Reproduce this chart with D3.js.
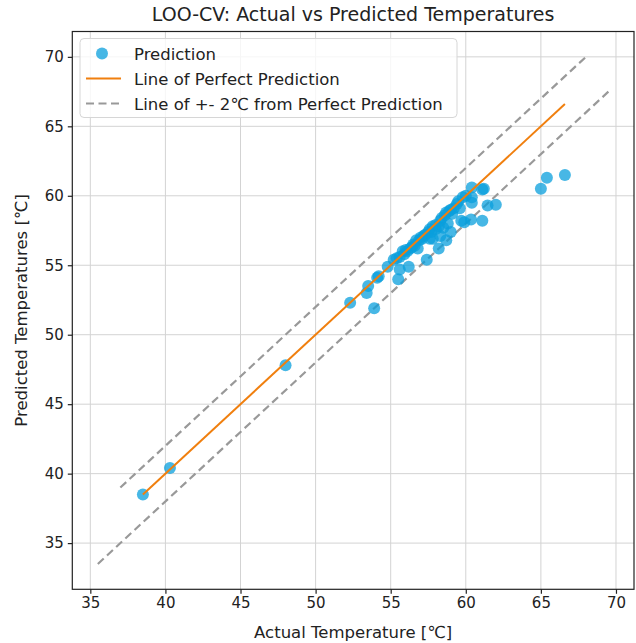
<!DOCTYPE html>
<html>
<head>
<meta charset="utf-8">
<script src="https://cdn.jsdelivr.net/npm/d3@7"></script>
<style>
  body { margin: 0; background: #fff; }
  text { font-family: "DejaVu Sans", sans-serif; }
</style>
</head>
<body>
<svg id="chart"></svg>
<script>
// actual vs predicted (°C)
const actual = [38.5, 40.3, 48.0, 52.3, 53.4, 53.5, 53.9, 54.1, 54.2, 54.8, 55.2, 55.5, 55.6, 55.4, 55.6,
  55.8, 55.9, 56.0, 56.1, 56.2, 56.3, 56.4, 56.5, 56.6, 56.8, 56.7, 56.9, 57.0, 57.1, 57.2, 57.4, 57.3,
  57.5, 57.6, 57.6, 57.7, 57.8, 57.8, 58.0, 58.0, 58.2, 58.2, 58.3, 58.3, 58.4, 58.5, 58.6, 58.7, 58.7,
  58.8, 58.9, 59.0, 59.0, 59.1, 59.2, 59.4, 59.5, 59.6, 59.7, 59.8, 59.9, 60.0, 60.35, 60.4, 60.4, 60.4,
  61.1, 61.2, 61.1, 61.45, 62.0, 65.0, 65.4, 66.6]
const predicted = [38.5, 40.4, 47.8, 52.3, 53.0, 53.5, 51.9, 54.1, 54.2, 54.9, 55.4, 54.0, 54.7, 55.5, 55.6,
  56.0, 55.8, 56.1, 56.0, 54.9, 56.2, 56.3, 56.5, 56.4, 56.2, 56.8, 56.8, 57.0, 56.9, 57.1, 55.4, 57.2,
  57.4, 56.9, 57.6, 57.4, 57.8, 56.9, 57.9, 57.6, 57.8, 56.2, 57.1, 58.2, 58.4, 57.7, 58.6, 56.8, 58.8,
  58.0, 58.9, 57.4, 59.0, 58.7, 59.1, 59.4, 59.6, 59.1, 58.2, 59.9, 58.1, 60.0, 58.3, 59.5, 59.9, 60.6,
  60.45, 60.5, 58.2, 59.3, 59.35, 60.5, 61.3, 61.5]

// +-2 band lines, x ranges
const upperX = [37.0, 68.0]
const lowerX = [35.5, 69.5]
const band = 2

const xTicks = [35, 40, 45, 50, 55, 60, 65, 70]
const yTicks = [35, 40, 45, 50, 55, 60, 65, 70]

const legendLabels = ['Prediction', 'Line of Perfect Prediction', 'Line of +- 2\u2103 from Perfect Prediction']

const W = 636, H = 643
const margin = {top: 31.5, right: 2, bottom: 53.7, left: 72.3}
const iw = W - margin.left - margin.right
const ih = H - margin.top - margin.bottom

const dotColor = '#0a9fdc'
const lineColor = '#f07f0e'
const dashColor = '#999999'

const svg = d3.select('#chart').attr('width', W).attr('height', H)

// limits like matplotlib: data extent + 5%
const pad = ([a, b]) => [a - (b - a) * 0.05, b + (b - a) * 0.05]
const allX = actual.concat(upperX, lowerX)
const allY = predicted.concat(upperX.map(v => v + band), lowerX.map(v => v - band))
const x = d3.scaleLinear().domain(pad(d3.extent(allX))).range([0, iw])
const y = d3.scaleLinear().domain(pad(d3.extent(allY))).range([ih, 0])

const g = svg.append('g').attr('transform', `translate(${margin.left},${margin.top})`)

// grid
g.append('g').selectAll('line').data(xTicks).join('line')
  .attr('x1', d => x(d)).attr('x2', d => x(d)).attr('y1', 0).attr('y2', ih)
  .attr('stroke', '#d3d3d3').attr('stroke-width', 1)
g.append('g').selectAll('line').data(yTicks).join('line')
  .attr('y1', d => y(d)).attr('y2', d => y(d)).attr('x1', 0).attr('x2', iw)
  .attr('stroke', '#d3d3d3').attr('stroke-width', 1)

const line = d3.line().x(d => x(d[0])).y(d => y(d[1]))

// band lines
g.append('path').datum(upperX.map(v => [v, v + band])).attr('d', line)
  .attr('fill', 'none').attr('stroke', dashColor).attr('stroke-width', 2.2).attr('stroke-dasharray', '8,4.5')
g.append('path').datum(lowerX.map(v => [v, v - band])).attr('d', line)
  .attr('fill', 'none').attr('stroke', dashColor).attr('stroke-width', 2.2).attr('stroke-dasharray', '8,4.5')

// scatter
const pts = actual.map((a, i) => [a, predicted[i]])
g.append('g').selectAll('circle').data(pts).join('circle')
  .attr('cx', d => x(d[0])).attr('cy', d => y(d[1])).attr('r', 6)
  .attr('fill', dotColor).attr('fill-opacity', 0.75)

// perfect line
const ext = d3.extent(actual)
g.append('path').datum(ext.map(v => [v, v])).attr('d', line)
  .attr('fill', 'none').attr('stroke', lineColor).attr('stroke-width', 2)

// axes
const xAxis = g.append('g').attr('transform', `translate(0,${ih})`)
  .call(d3.axisBottom(x).tickValues(xTicks).tickSize(4.5).tickPadding(4))
const yAxis = g.append('g')
  .call(d3.axisLeft(y).tickValues(yTicks).tickSize(4.5).tickPadding(4))
;[xAxis, yAxis].forEach(a => {
  a.select('.domain').remove()
  a.selectAll('text').attr('font-size', 15).attr('fill', '#222')
  a.selectAll('line').attr('stroke', '#222').attr('stroke-width', 1.2)
})

g.append('rect').attr('width', iw).attr('height', ih)
  .attr('fill', 'none').attr('stroke', '#222').attr('stroke-width', 1.2)

// labels
svg.append('text').attr('x', margin.left + iw / 2).attr('y', 21)
  .attr('text-anchor', 'middle').attr('font-size', 19).attr('fill', '#222')
  .text('LOO-CV: Actual vs Predicted Temperatures')
svg.append('text').attr('x', margin.left + iw / 2).attr('y', 638)
  .attr('text-anchor', 'middle').attr('font-size', 16.5).attr('fill', '#222')
  .text('Actual Temperature [\u2103]')
svg.append('text').attr('transform', `translate(27,${margin.top + ih / 2}) rotate(-90)`)
  .attr('text-anchor', 'middle').attr('font-size', 16.5).attr('fill', '#222')
  .text('Predicted Temperatures [\u2103]')

// legend
const lg = svg.append('g').attr('transform', 'translate(80,38.5)')
lg.append('rect').attr('width', 377).attr('height', 79).attr('rx', 4)
  .attr('fill', 'white').attr('fill-opacity', 0.8).attr('stroke', '#d6d6d6')
const rowY = [15, 40, 65]
lg.append('circle').attr('cx', 22).attr('cy', rowY[0]).attr('r', 6)
  .attr('fill', dotColor).attr('fill-opacity', 0.75)
lg.append('line').attr('x1', 6).attr('x2', 41).attr('y1', rowY[1]).attr('y2', rowY[1])
  .attr('stroke', lineColor).attr('stroke-width', 2)
lg.append('line').attr('x1', 6).attr('x2', 41).attr('y1', rowY[2]).attr('y2', rowY[2])
  .attr('stroke', dashColor).attr('stroke-width', 2.2).attr('stroke-dasharray', '8,4.5')
lg.selectAll('text.lab').data(legendLabels).join('text').attr('class', 'lab')
  .attr('x', 54).attr('y', (d, i) => rowY[i] + 6).attr('font-size', 16.5).attr('fill', '#222')
  .text(d => d)
</script>
</body>
</html>
